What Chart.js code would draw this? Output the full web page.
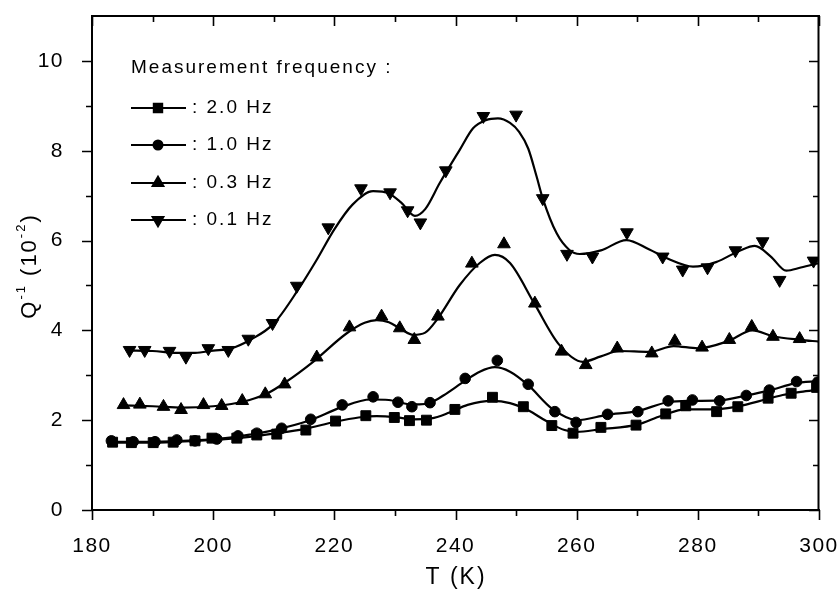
<!DOCTYPE html>
<html>
<head>
<meta charset="utf-8">
<script src="https://cdn.jsdelivr.net/npm/chart.js@4.4.1/dist/chart.umd.min.js"></script>
<style>
  html, body { margin: 0; padding: 0; background: #fff; overflow: hidden; }
  #myChart { display: block; }
</style>
</head>
<body>
<canvas id="myChart" width="839" height="591"></canvas>
<script>
// measured points (T in K, Q^-1 in 10^-2)
const sqT = [183.4, 186.5, 190.1, 193.4, 197.0, 199.8, 203.9, 207.2, 210.5, 215.3, 220.2, 225.2, 229.9, 232.4, 235.2, 239.9, 246.1, 251.2, 255.9, 259.4, 264.0, 269.8, 274.7, 278.0, 283.1, 286.6, 291.6, 295.4, 299.6];
const sqQ = [1.51, 1.50, 1.50, 1.51, 1.54, 1.60, 1.60, 1.67, 1.69, 1.78, 1.98, 2.10, 2.06, 1.99, 2.00, 2.24, 2.51, 2.30, 1.88, 1.71, 1.84, 1.89, 2.14, 2.32, 2.19, 2.30, 2.49, 2.60, 2.73];

const ciT = [183.2, 186.8, 190.4, 194.0, 197.0, 200.6, 204.1, 207.2, 211.3, 216.1, 221.3, 226.4, 230.5, 232.8, 235.8, 241.6, 246.9, 252.0, 256.4, 259.9, 265.1, 270.1, 275.1, 279.1, 283.6, 288.0, 291.8, 296.3, 299.8];
const ciQ = [1.54, 1.52, 1.52, 1.56, 1.54, 1.58, 1.65, 1.71, 1.82, 2.02, 2.34, 2.52, 2.40, 2.30, 2.39, 2.93, 3.33, 2.80, 2.19, 1.95, 2.13, 2.19, 2.43, 2.45, 2.43, 2.55, 2.67, 2.86, 2.85];

const upT = [185.2, 187.9, 191.8, 194.7, 198.4, 201.4, 204.8, 208.6, 211.8, 217.1, 222.5, 227.8, 230.8, 233.2, 237.1, 242.7, 248.0, 253.1, 257.5, 261.5, 266.7, 272.4, 276.2, 280.7, 285.2, 288.9, 292.4, 296.8];
const upQ = [2.34, 2.35, 2.30, 2.23, 2.34, 2.32, 2.43, 2.58, 2.80, 3.40, 4.07, 4.31, 4.05, 3.79, 4.31, 5.49, 5.92, 4.60, 3.53, 3.23, 3.60, 3.49, 3.76, 3.62, 3.79, 4.08, 3.86, 3.81];

const dnT = [186.2, 188.7, 192.8, 195.5, 199.2, 202.5, 205.8, 209.8, 213.8, 219.0, 224.4, 229.2, 232.1, 234.2, 238.4, 244.6, 250.0, 254.4, 258.4, 262.6, 268.3, 274.2, 277.5, 281.6, 286.2, 290.7, 293.5, 299.1];
const dnQ = [3.56, 3.56, 3.54, 3.41, 3.60, 3.56, 3.81, 4.16, 4.99, 6.29, 7.16, 7.07, 6.67, 6.40, 7.56, 8.77, 8.80, 6.94, 5.70, 5.64, 6.18, 5.64, 5.35, 5.40, 5.78, 5.98, 5.12, 5.55];

// fitted curves
const fit2T = [183, 190, 197, 202, 206, 210, 215, 220, 224, 227, 230, 233, 236, 239, 242, 246, 249, 252, 255, 258, 260, 264, 270, 274, 278, 282, 286, 290, 294, 297, 300];
const fit2Q = [1.50, 1.50, 1.54, 1.58, 1.63, 1.70, 1.80, 1.96, 2.06, 2.09, 2.07, 2.02, 2.04, 2.17, 2.34, 2.43, 2.38, 2.22, 1.98, 1.78, 1.74, 1.80, 1.90, 2.10, 2.24, 2.24, 2.29, 2.42, 2.56, 2.63, 2.68];

const fit1T = [183, 190, 197, 202, 206, 210, 216, 221, 226, 229, 232, 234, 236, 238, 241.6, 244, 246.5, 249, 252, 256, 260, 265, 270, 275, 279, 283.6, 288, 292, 296, 300];
const fit1Q = [1.52, 1.52, 1.55, 1.60, 1.68, 1.78, 2.00, 2.28, 2.46, 2.45, 2.36, 2.35, 2.40, 2.55, 2.88, 3.08, 3.18, 3.08, 2.78, 2.25, 2.00, 2.12, 2.20, 2.40, 2.43, 2.44, 2.55, 2.67, 2.82, 2.87];

const fit03T = [185, 190, 195, 200, 203, 206, 209, 212, 216.5, 222, 225, 227, 229, 231, 233, 235, 237, 240.7, 244, 246.5, 249, 253, 257, 261, 264, 267, 272, 276, 280, 285, 289, 292.4, 296.8, 300];
const fit03Q = [2.33, 2.31, 2.28, 2.31, 2.36, 2.45, 2.60, 2.85, 3.30, 3.93, 4.17, 4.23, 4.18, 4.03, 3.90, 3.95, 4.25, 5.01, 5.50, 5.68, 5.50, 4.60, 3.70, 3.30, 3.42, 3.54, 3.52, 3.65, 3.60, 3.76, 4.00, 3.87, 3.79, 3.75];

const fit01T = [186, 190, 194, 197, 200, 203, 206, 210, 214, 217, 220, 223, 226.4, 229, 231, 233.3, 235, 237.4, 240.7, 242.9, 245, 247, 249, 250.5, 252, 253.4, 254.4, 256.7, 258.8, 260.5, 264, 268.2, 272, 275, 279.2, 283, 287, 289.4, 292, 294.6, 297, 300];
const fit01Q = [3.55, 3.54, 3.50, 3.50, 3.55, 3.60, 3.78, 4.15, 4.90, 5.55, 6.25, 6.80, 7.10, 7.05, 6.85, 6.55, 6.70, 7.28, 8.02, 8.50, 8.68, 8.72, 8.62, 8.42, 8.05, 7.42, 6.94, 6.16, 5.79, 5.70, 5.78, 6.01, 5.80, 5.60, 5.42, 5.52, 5.78, 5.88, 5.65, 5.33, 5.40, 5.50];

const legendLabels = [": 2.0 Hz", ": 1.0 Hz", ": 0.3 Hz", ": 0.1 Hz"];
const xTicks = [180, 200, 220, 240, 260, 280, 300];
const yTicks = [0, 2, 4, 6, 8, 10];

const toXY = (xs, ys) => xs.map((x, i) => ({ x: x, y: ys[i] }));

const markerSets = [
  { t: sqT, q: sqQ, style: "rect", radius: 7, rotation: 0 },
  { t: ciT, q: ciQ, style: "circle", radius: 5.3, rotation: 0 },
  { t: upT, q: upQ, style: "triangle", radius: 7.3, rotation: 0 },
  { t: dnT, q: dnQ, style: "triangle", radius: 7.3, rotation: 180 },
];
const fitSets = [[fit2T, fit2Q], [fit1T, fit1Q], [fit03T, fit03Q], [fit01T, fit01Q]];

const datasets = [];
fitSets.forEach((f) => {
  datasets.push({
    type: "line",
    data: toXY(f[0], f[1]),
    borderColor: "#000",
    borderWidth: 2.2,
    pointRadius: 0,
    cubicInterpolationMode: "monotone",
    fill: false,
  });
});
markerSets.forEach((m) => {
  datasets.push({
    type: "scatter",
    data: toXY(m.t, m.q),
    showLine: false,
    pointStyle: m.style,
    pointRadius: m.radius,
    pointRotation: m.rotation,
    pointBackgroundColor: "#000",
    pointBorderColor: "#000",
    pointBorderWidth: 1,
  });
});

const FONT = "'Liberation Sans', Arial, sans-serif";

const noPad = (s) => { s.paddingLeft = 0; s.paddingRight = 0; s.paddingTop = 0; s.paddingBottom = 0; };

// frame, ticks, titles and legend
const framePlugin = {
  id: "frame",
  beforeUpdate(chart) {
    chart.ctx.letterSpacing = "1.5px";
  },
  afterDraw(chart) {
    const ctx = chart.ctx;
    const xs = chart.scales.x;
    const ys = chart.scales.y;
    const L = Math.round(xs.getPixelForValue(180));
    const R = Math.round(xs.getPixelForValue(300));
    const T = Math.round(ys.getPixelForValue(11));
    const B = Math.round(ys.getPixelForValue(0));
    ctx.save();
    ctx.strokeStyle = "#000";
    ctx.fillStyle = "#000";
    ctx.lineWidth = 2;
    ctx.lineCap = "square";
    ctx.beginPath();
    ctx.moveTo(L, T); ctx.lineTo(R, T);
    ctx.moveTo(R - 0.5, T); ctx.lineTo(R - 0.5, B);
    ctx.moveTo(R, B); ctx.lineTo(L, B);
    ctx.moveTo(L, B); ctx.lineTo(L, T);
    ctx.stroke();
    ctx.lineCap = "butt";

    ctx.lineWidth = 1.6;
    ctx.beginPath();
    for (let t = 180; t <= 300; t += 10) {
      const px = Math.round(xs.getPixelForValue(t)) + 0.5;
      const len = t % 20 === 0 ? 10 : 6;
      ctx.moveTo(px, B); ctx.lineTo(px, B + len);
      ctx.moveTo(px, T); ctx.lineTo(px, T + len);
    }
    for (let v = 0; v <= 10; v += 1) {
      const py = Math.round(ys.getPixelForValue(v)) + 0.5;
      const len = v % 2 === 0 ? 10 : 6;
      ctx.moveTo(L, py); ctx.lineTo(L - len, py);
      ctx.moveTo(R, py); ctx.lineTo(R - len, py);
    }
    ctx.stroke();

    // x title
    ctx.letterSpacing = "2px";
    ctx.font = "23px " + FONT;
    ctx.textAlign = "center";
    ctx.textBaseline = "middle";
    ctx.fillText("T (K)", 456, 578);

    // y title with superscripts
    ctx.save();
    ctx.translate(30, 266);
    ctx.rotate(-Math.PI / 2);
    const parts = [
      ["Q", 22, 0], ["-1", 13, -9], [" (10", 22, 0], ["-2", 13, -9], [")", 22, 0],
    ];
    let total = 0;
    parts.forEach((p) => { ctx.font = p[1] + "px " + FONT; total += ctx.measureText(p[0]).width; });
    let cx = -total / 2;
    ctx.textAlign = "left";
    parts.forEach((p) => {
      ctx.font = p[1] + "px " + FONT;
      ctx.fillText(p[0], cx, p[2]);
      cx += ctx.measureText(p[0]).width;
    });
    ctx.restore();

    // legend
    ctx.letterSpacing = "2px";
    ctx.font = "19px " + FONT;
    ctx.textAlign = "left";
    ctx.textBaseline = "middle";
    ctx.fillText("Measurement frequency :", 131, 68);
    const rows = [108, 145, 183, 220];
    markerSets.forEach((m, i) => {
      const y = rows[i];
      ctx.lineWidth = 2;
      ctx.beginPath();
      ctx.moveTo(131, y); ctx.lineTo(186, y);
      ctx.stroke();
      Chart.helpers.drawPoint(ctx, {
        pointStyle: m.style, radius: m.radius * 0.85, rotation: m.rotation, borderWidth: 1,
      }, 158, y);
      ctx.fill();
      ctx.fillText(legendLabels[i], 192, y);
    });
    ctx.restore();
  },
};

const chart = new Chart(document.getElementById("myChart"), {
  data: { datasets: datasets },
  options: {
    responsive: false,
    animation: false,
    layout: { padding: { top: 16, right: 20, left: 0, bottom: 0 } },
    plugins: { legend: { display: false }, tooltip: { enabled: false } },
    scales: {
      x: {
        type: "linear",
        min: 180,
        max: 300,
        afterBuildTicks: (s) => { s.ticks = xTicks.map((v) => ({ value: v })); },
        afterFit: (s) => { s.height = 81; noPad(s); },
        grid: { display: false },
        border: { display: false },
        ticks: { color: "#000", font: { family: FONT, size: 21 }, padding: 16, maxRotation: 0, autoSkip: false },
      },
      y: {
        type: "linear",
        min: 0,
        max: 11,
        afterBuildTicks: (s) => { s.ticks = yTicks.map((v) => ({ value: v })); },
        afterFit: (s) => { s.width = 92; noPad(s); },
        grid: { display: false },
        border: { display: false },
        ticks: { color: "#000", font: { family: FONT, size: 21 }, padding: 20, autoSkip: false },
      },
    },
  },
  plugins: [framePlugin],
});
</script>
</body>
</html>
